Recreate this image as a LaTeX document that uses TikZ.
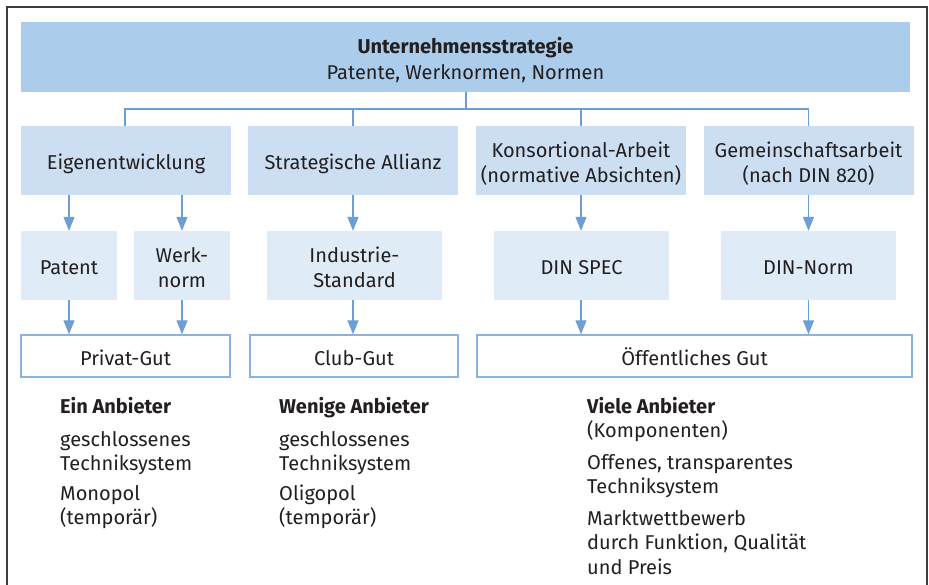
\documentclass[tikz,border=0pt]{standalone}
\usepackage{fontspec}
\setmainfont{Fira Sans}
\usetikzlibrary{arrows.meta}
\definecolor{topblue}{HTML}{ABCDEB}
\definecolor{midblue}{HTML}{CCDFF2}
\definecolor{lightblue}{HTML}{DFEBF7}
\definecolor{lineblue}{HTML}{6B9FD6}
\definecolor{boxline}{HTML}{8AB3E3}
\definecolor{txt}{HTML}{231F20}
\definecolor{framegray}{HTML}{3C3C3C}
\newcommand{\fstr}{\rule{0pt}{24pt}}
\newcommand{\lstr}{\rule[-5pt]{0pt}{5pt}}
\begin{document}
\begin{tikzpicture}[x=1pt,y=-1pt,
  every node/.style={inner sep=0pt, text=txt, font=\fontsize{20}{24.5}\selectfont},
  topbox/.style={fill=topblue, align=center, minimum height=70pt},
  lvltwo/.style={fill=midblue, align=center, minimum height=69pt},
  lvlthree/.style={fill=lightblue, align=center, minimum height=69pt},
  goodbox/.style={draw=boxline, line width=1.4pt, fill=white, minimum height=42pt},
  conn/.style={draw=lineblue, line width=1.2pt},
  arr/.style={conn, -{Triangle[width=11pt,length=14pt]}},
  info/.style={anchor=base west, align=left}]
\useasboundingbox (0,0) rectangle (929,585);
\fill[white] (0,0) rectangle (929,585);
\draw[framegray, line width=1.8pt] (7,590) -- (7,7) -- (927,7) -- (927,590);

% top
\node[topbox, minimum width=889pt] (top) at (465.5,57) {\fstr\textbf{Unternehmensstrategie}\\[1.5pt]Patente, Werknormen, Normen\lstr};

% level 2
\node[lvltwo, minimum width=210pt] (eig) at (126,160.5) {\fstr Eigenentwicklung\lstr};
\node[lvltwo, minimum width=210pt] (sa) at (353,160.5) {\fstr Strategische Allianz\lstr};
\node[lvltwo, minimum width=210pt] (ka) at (581,160.5) {\fstr Konsortional-Arbeit\\(normative Absichten)\lstr};
\node[lvltwo, minimum width=210pt] (ga) at (808.5,160.5) {\fstr Gemeinschaftsarbeit\\(nach DIN 820)\lstr};

% level 3
\node[lvlthree, minimum width=96pt] (pat) at (69,265.5) {\fstr Patent\lstr};
\node[lvlthree, minimum width=96pt] (wn) at (182,265.5) {\fstr Werk-\\norm\lstr};
\node[lvlthree, minimum width=175pt] (ind) at (354.5,265.5) {\fstr Industrie-\\Standard\lstr};
\node[lvlthree, minimum width=175pt] (spec) at (581.5,265.5) {\fstr DIN SPEC\lstr};
\node[lvlthree, minimum width=175pt] (norm) at (808.5,265.5) {\fstr DIN-Norm\lstr};

% level 4
\node[goodbox, minimum width=209pt] (priv) at (125.5,356) {\fstr Privat-Gut\lstr};
\node[goodbox, minimum width=208pt] (club) at (354,356) {\fstr Club-Gut\lstr};
\node[goodbox, minimum width=435pt] (oeff) at (694.5,356) {\fstr Öffentliches Gut\lstr};

% connectors
\coordinate (bus) at (466,109);
\draw[conn] (top.south -| bus) -- (bus);
\draw[conn] (eig.north -| 125,0) |- (bus) -| (ga.north);
\draw[conn] (sa.north) -- (sa.north |- bus);
\draw[conn] (ka.north) -- (ka.north |- bus);

\draw[arr] (pat.north |- eig.south) -- (pat.north);
\draw[arr] (wn.north |- eig.south) -- (wn.north);
\draw[arr] (sa.south) -- (sa.south |- ind.north);
\draw[arr] (ka.south) -- (ka.south |- spec.north);
\draw[arr] (ga.south) -- (ga.south |- norm.north);

\draw[arr] (pat.south) -- (pat.south |- priv.north);
\draw[arr] (wn.south) -- (wn.south |- priv.north);
\draw[arr] (sa.south |- ind.south) -- (sa.south |- club.north);
\draw[arr] (ka.south |- spec.south) -- (ka.south |- oeff.north);
\draw[arr] (ga.south |- norm.south) -- (ga.south |- oeff.north);

% info texts (anchor = baseline of last line)
\node[info] (a1) at (60,413) {\textbf{Ein Anbieter}};
\node[info] (a2) at (60,470.5) {geschlossenes\\Techniksystem};
\node[info] (a3) at (60,524.5) {Monopol\\(temporär)};

\node[info] (b1) at (279,413) {\textbf{Wenige Anbieter}};
\node[info] (b2) at (279,470.5) {geschlossenes\\Techniksystem};
\node[info] (b3) at (279,524.5) {Oligopol\\(temporär)};

\node[info] (c1) at (587,437.5) {\textbf{Viele Anbieter}\\(Komponenten)};
\node[info] (c2) at (587,493.5) {Offenes, transparentes\\Techniksystem};
\node[info] (c3) at (587,574) {Marktwettbewerb\\durch Funktion, Qualität\\und Preis};
\end{tikzpicture}
\end{document}
